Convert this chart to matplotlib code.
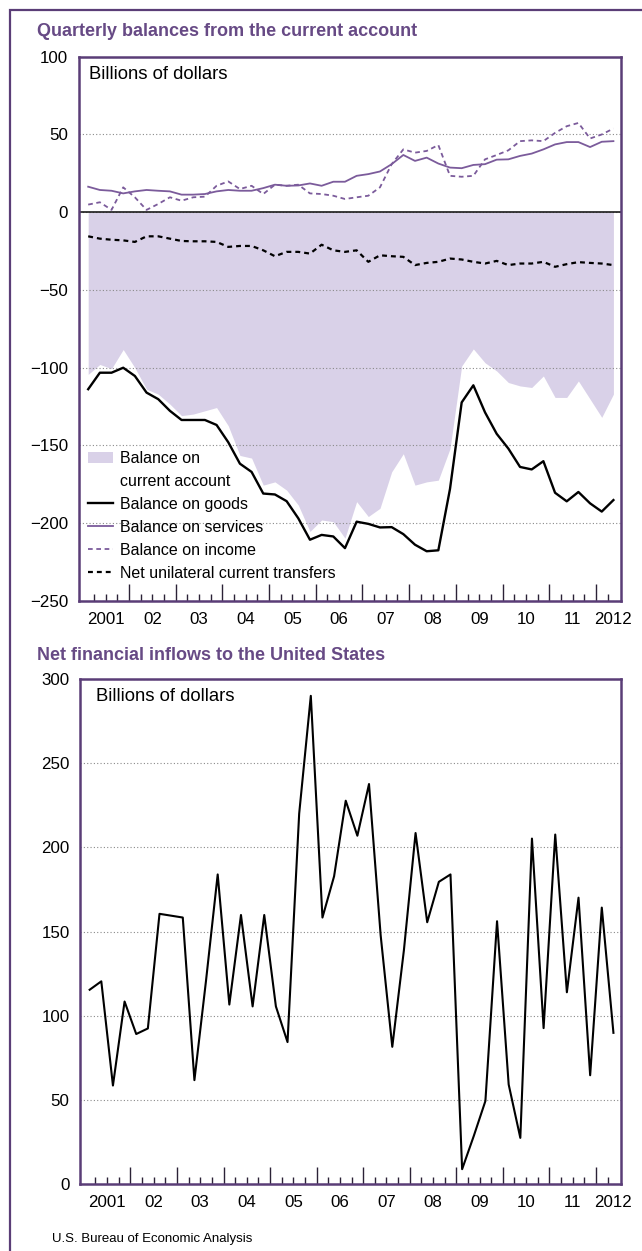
import numpy as np
import matplotlib
matplotlib.use("Agg")
import matplotlib.pyplot as plt
from matplotlib.lines import Line2D
from matplotlib.patches import Patch, Rectangle

plt.rcParams['font.family'] = ['Liberation Sans', 'DejaVu Sans']

# ---------------- data (2001Q1 .. 2012Q2) ----------------
quarters = [f"{y}Q{q}" for y in range(2001, 2013) for q in range(1, 5)][:46]

current_account = [-104.3, -97.9, -100.6, -88.3, -100.0, -113.8, -117.0, -123.4, -130.8, -129.8,
                   -127.7, -125.6, -137.3, -156.4, -158.1, -175.5, -173.4, -178.7, -188.3, -205.3,
                   -197.9, -199.0, -209.6, -186.1, -195.7, -190.4, -167.0, -155.3, -175.5, -173.4,
                   -172.3, -152.0, -98.9, -87.9, -96.8, -102.1, -109.5, -111.7, -112.7, -105.3,
                   -119.1, -119.1, -108.5, -120.2, -131.9, -117.0]
goods = [-113.8, -103.2, -103.2, -100.0, -105.3, -116.0, -120.2, -127.7, -133.6, -133.6,
         -133.6, -136.8, -147.9, -161.7, -167.0, -180.9, -181.5, -185.8, -196.8, -210.6,
         -207.5, -208.5, -216.0, -199.0, -200.4, -202.7, -202.5, -207.0, -213.8, -218.0,
         -217.4, -177.9, -122.3, -111.3, -128.7, -142.5, -152.0, -163.8, -165.4, -160.1,
         -180.4, -185.9, -179.9, -187.2, -192.5, -185.1]
services = [16.4, 14.3, 13.8, 12.1, 13.4, 14.3, 13.8, 13.4, 11.3, 11.3,
            11.7, 13.4, 14.3, 13.8, 13.8, 15.5, 17.7, 17.0, 17.2, 18.5,
            17.0, 19.6, 19.6, 23.4, 24.5, 26.2, 30.9, 36.8, 33.0, 35.1,
            31.3, 28.7, 28.3, 30.4, 30.9, 33.8, 34.0, 36.2, 37.7, 40.4,
            43.6, 45.1, 45.1, 41.9, 45.3, 45.7]
income = [4.9, 6.4, 1.5, 16.0, 9.6, 1.5, 5.3, 9.6, 7.4, 9.6,
          10.0, 17.0, 19.8, 14.9, 17.0, 11.7, 17.7, 17.0, 17.7, 12.1,
          11.7, 10.6, 8.5, 9.6, 10.6, 16.0, 30.9, 40.4, 38.3, 39.4,
          43.2, 23.4, 22.8, 23.4, 34.0, 36.8, 39.8, 45.7, 46.2, 45.7,
          51.0, 55.3, 57.4, 47.4, 50.0, 53.8]
transfers = [-15.5, -17.0, -17.7, -18.1, -19.1, -15.5, -15.5, -17.0, -18.5, -18.7,
             -18.7, -19.1, -22.3, -21.7, -21.7, -24.5, -28.3, -25.5, -25.5, -26.6,
             -20.9, -24.5, -25.5, -24.5, -31.9, -27.7, -28.3, -28.7, -34.0, -32.6,
             -31.9, -29.8, -30.4, -31.9, -33.0, -31.3, -34.0, -33.0, -33.0, -31.9,
             -35.1, -33.4, -32.1, -32.6, -33.0, -34.0]
net_inflows = [115.4, 120.4, 58.5, 108.4, 89.1, 92.4, 160.5, 159.4, 158.3, 61.7,
               121.0, 183.9, 106.6, 159.8, 105.5, 159.8, 105.5, 84.3, 220.0, 290.0,
               158.3, 182.8, 227.7, 206.9, 237.6, 147.8, 81.5, 139.0, 208.5, 155.5,
               179.5, 183.9, 8.8, 28.5, 49.3, 156.1, 59.1, 27.4, 205.2, 92.6,
               207.6, 113.9, 170.1, 64.6, 164.2, 89.8]

year_labels = ['2001', '02', '03', '04', '05', '06', '07', '08', '09', '10', '11', '2012']
legend_labels = ['Balance on', 'current account', 'Balance on goods',
                 'Balance on services', 'Balance on income',
                 'Net unilateral current transfers']

# ---------------- style ----------------
TITLE_C = '#674a85'
FRAME_C = '#5a3d77'
SERV_C = '#7b5b9b'
FILL_C = '#d9d1e8'
GRID_C = '#8a8a8a'
TICK_C = '#2b2236'

W, H = 642, 1251
fig = plt.figure(figsize=(W / 100, H / 100), dpi=100)
fig.patch.set_facecolor('white')

x = np.arange(len(quarters)) + 0.5
year_pos = [4 * k + 2 for k in range(11)] + [45.5]


def style_axes(ax, ylim, yticks):
    ax.set_xlim(-0.33, 46.15)
    ax.set_ylim(*ylim)
    ax.set_yticks(yticks)
    ax.yaxis.grid(True, linestyle=(0, (1, 2)), color=GRID_C, lw=0.8)
    ax.tick_params(axis='y', length=0, pad=7.5, labelsize=12.2)
    ax.set_xticks(np.arange(4, 45, 4))
    ax.set_xticks([i for i in range(1, 46) if i % 4], minor=True)
    ax.tick_params(axis='x', which='major', direction='in', length=12, width=1,
                   color=TICK_C, labelbottom=False)
    ax.tick_params(axis='x', which='minor', direction='in', length=4.8, width=1,
                   color=TICK_C)
    for sp in ax.spines.values():
        sp.set_color(FRAME_C)
        sp.set_linewidth(1.8)
    sec = ax.secondary_xaxis('bottom')
    sec.set_xticks(year_pos, year_labels)
    sec.tick_params(length=0, pad=8, labelsize=12.2)
    sec.spines['bottom'].set_visible(False)


# ---------------- upper chart ----------------
ax1 = fig.add_axes([78.5 / W, 1 - 601 / H, (621 - 78.5) / W, (601 - 56.7) / H])
ax1.fill_between(x, current_account, 0, color=FILL_C, lw=0, zorder=1)
ax1.axhline(0, color='#1a1a1a', lw=1.2, zorder=2.5)
ax1.plot(x, services, color=SERV_C, lw=1.3, zorder=3)
ax1.plot(x, income, color=SERV_C, lw=1.3, ls=(0, (2.6, 2.0)), zorder=3)
ax1.plot(x, transfers, color='black', lw=1.6, ls=(0, (2.2, 1.8)), zorder=3)
ax1.plot(x, goods, color='black', lw=1.7, zorder=4)
style_axes(ax1, (-250, 100), np.arange(-250, 101, 50))
ax1.text(0.0194, 0.968, 'Billions of dollars', transform=ax1.transAxes,
         va='center', ha='left', fontsize=13.3)

handles = [Patch(facecolor=FILL_C, edgecolor='none'),
           Patch(facecolor='none', edgecolor='none'),
           Line2D([], [], color='black', lw=1.7),
           Line2D([], [], color=SERV_C, lw=1.3),
           Line2D([], [], color=SERV_C, lw=1.3, ls=(0, (2.6, 2.0))),
           Line2D([], [], color='black', lw=1.6, ls=(0, (2.2, 1.8)))]
ax1.legend(handles, legend_labels, loc='lower left', bbox_to_anchor=(0.017, 0.037),
           frameon=False, fontsize=11.5, handlelength=1.6, handletextpad=0.45,
           labelspacing=0.5, borderpad=0, borderaxespad=0)

# ---------------- lower chart ----------------
ax2 = fig.add_axes([80 / W, 1 - 1184 / H, (621 - 80) / W, (1184 - 679) / H])
ax2.plot(x, net_inflows, color='black', lw=1.5, zorder=3)
style_axes(ax2, (0, 300), np.arange(0, 301, 50))
ax2.text(0.03, 0.965, 'Billions of dollars', transform=ax2.transAxes,
         va='center', ha='left', fontsize=13.3)

# ---------------- titles, footer, outer frame ----------------
fig.text(37 / W, 1 - 31.7 / H, 'Quarterly balances from the current account',
         fontsize=13.0, fontweight='bold', color=TITLE_C, va='center', ha='left')
fig.text(37 / W, 1 - 655 / H, 'Net financial inflows to the United States',
         fontsize=13.0, fontweight='bold', color=TITLE_C, va='center', ha='left')
fig.text(51.7 / W, 1 - 1239.3 / H, 'U.S. Bureau of Economic Analysis',
         fontsize=9.5, va='center', ha='left')

fig.add_artist(Rectangle((9.5 / W, -0.02), 1.05, 1 - 10 / H + 0.02,
                         transform=fig.transFigure, fill=False,
                         edgecolor=FRAME_C, lw=1.6))

fig.savefig('out.png', dpi=100)
